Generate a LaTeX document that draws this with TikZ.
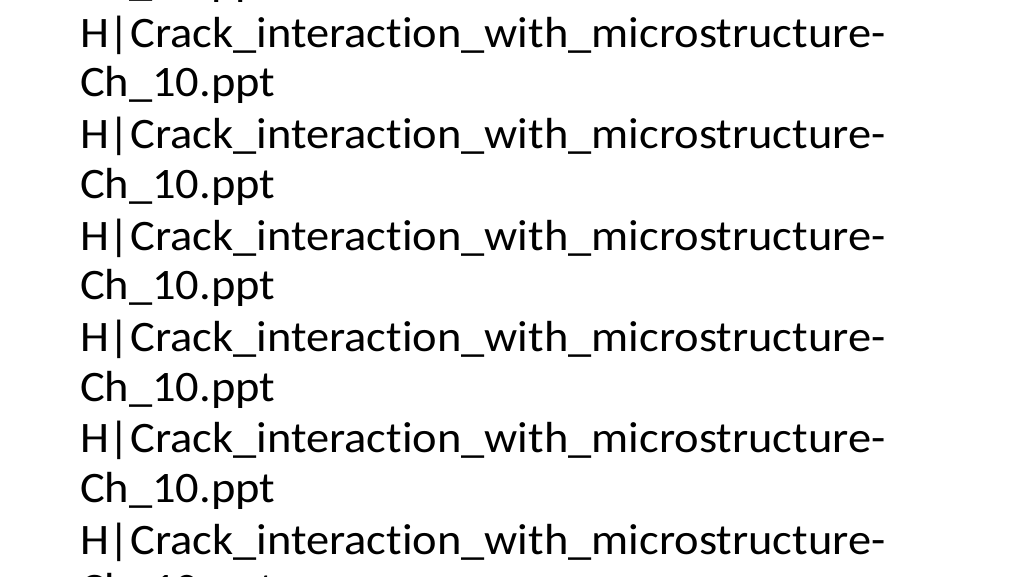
\documentclass[tikz,border=0pt]{standalone}
\usepackage{fontspec}
\setmainfont{Carlito}[Ligatures={NoCommon},FakeStretch=1.068]
\usetikzlibrary{positioning}

\tikzset{
	slideline/.style={anchor=base west, inner sep=0pt, outer sep=0pt,
		font=\fontsize{43.5}{50}\selectfont}
}

\begin{document}
\begin{tikzpicture}[x=1pt,y=1pt]
	\useasboundingbox (0,0) rectangle (1024,576);
	\clip (0,0) rectangle (1024,576);
	% filename heads
	\foreach \i in {0,...,5}
		\node[slideline] (head\i) at (80,{576-47.5-101.36*\i}) {H|Crack\_interaction\_with\_microstructure-};
	% filename tails, one cut at each edge
	\foreach \i in {-1,...,5}
		\node[slideline] (tail\i) at (80,{576-97-101.36*\i}) {Ch\_10.ppt};
\end{tikzpicture}
\end{document}
